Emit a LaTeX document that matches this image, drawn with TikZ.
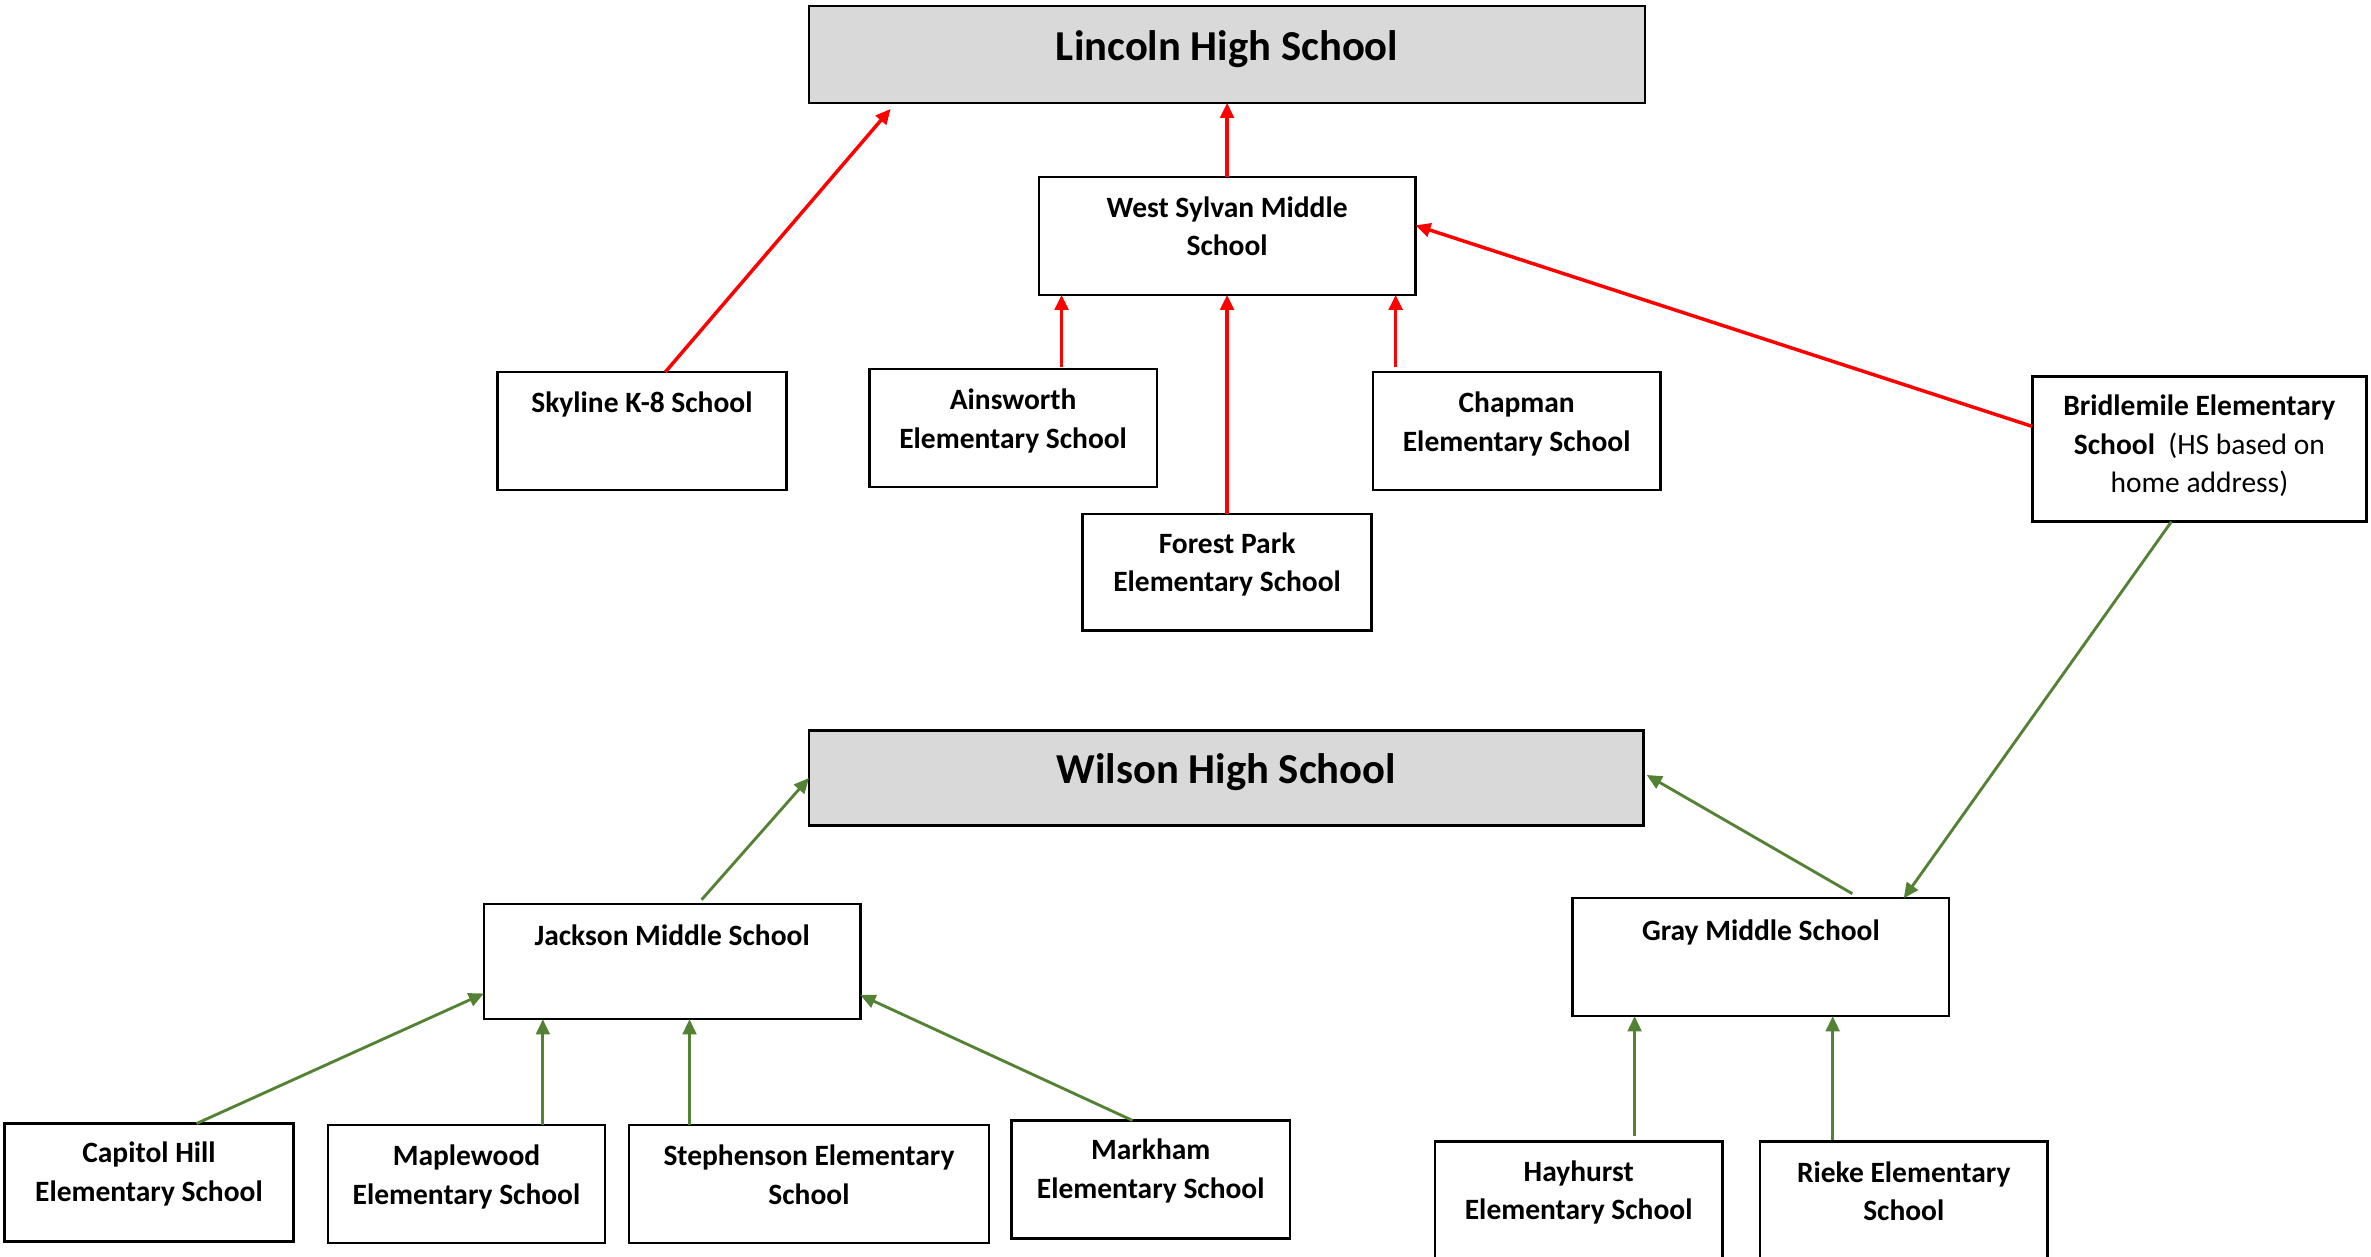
\documentclass[tikz,border=0pt]{standalone}
\usepackage{fontspec}
\setmainfont{Carlito}
\usetikzlibrary{calc,arrows.meta}
\definecolor{hsgray}{HTML}{D9D9D9}
\definecolor{tgreen}{HTML}{548235}
\definecolor{tred}{HTML}{FF0000}
\tikzset{
  sbox/.style 2 args={draw=black, line width=0.8pt, rectangle, inner sep=0pt, outer sep=0pt,
     anchor=north west, minimum width=#1*0.5pt, minimum height=#2*0.5pt},
  hsbox/.style={fill=hsgray},
  lbl/.style={anchor=north, inner sep=0pt, align=center, font=\bfseries\fontsize{9.75}{12.6}\selectfont},
  hslbl/.style={anchor=north, inner sep=0pt, align=center, font=\bfseries\fontsize{14.1}{17}\selectfont},
  redarr/.style={draw=tred, line width=1.15pt, -{Triangle[length=5pt,width=4.5pt]}},
  grnarr/.style={draw=tgreen, line width=0.95pt, -{Triangle[length=5pt,width=4.5pt]}}
}
\begin{document}
\begin{tikzpicture}[x=0.5pt,y=-0.5pt]
\useasboundingbox (0,0) rectangle (1568,831);
\clip (0,0) rectangle (1568,831);
% boxes
\node[sbox={553}{64}, hsbox] (lincoln) at (535,4) {};
\node[sbox={249}{78}] (wsms) at (687,117) {};
\node[sbox={191}{78}] (sky) at (329,246) {};
\node[sbox={190}{78}] (ain) at (575,244) {};
\node[sbox={191}{77}] (fp) at (716,340) {};
\node[sbox={190}{78}] (chap) at (908,246) {};
\node[sbox={221}{96}] (brid) at (1344,249) {};
\node[sbox={552}{63}, hsbox] (wilson) at (535,483) {};
\node[sbox={249}{76}] (jack) at (320,598) {};
\node[sbox={249}{78}] (gray) at (1040,594) {};
\node[sbox={191}{78}] (cap) at (3,743) {};
\node[sbox={183}{78}] (maple) at (217,744) {};
\node[sbox={238}{78}] (steph) at (416,744) {};
\node[sbox={184}{78}] (mark) at (669,741) {};
\node[sbox={190}{110}] (hay) at (949,755) {};
\node[sbox={190}{110}] (rieke) at (1164,755) {};
% texts
\node[hslbl] (lincoln-t) at ($(lincoln.north)+(0,16)$) {Lincoln High School};
\node[hslbl] (wilson-t) at ($(wilson.north)+(0,15)$) {Wilson High School};
\node[lbl] (wsms-t) at ($(wsms.north)+(0,13)$) {West Sylvan Middle\\School};
\node[lbl] (sky-t) at ($(sky.north)+(0,13)$) {Skyline K-8 School};
\node[lbl] (ain-t) at ($(ain.north)+(0,13)$) {Ainsworth\\Elementary School};
\node[lbl] (fp-t) at ($(fp.north)+(0,12)$) {Forest Park\\Elementary School};
\node[lbl] (chap-t) at ($(chap.north)+(0,13)$) {Chapman\\Elementary School};
\node[lbl] (brid-t) at ($(brid.north)+(0,12)$) {Bridlemile Elementary\\School\ \ {\mdseries(HS based on}\\{\mdseries home address)}};
\node[lbl] (jack-t) at ($(jack.north)+(0,13)$) {Jackson Middle School};
\node[lbl] (gray-t) at ($(gray.north)+(0,14)$) {Gray Middle School};
\node[lbl] (cap-t) at ($(cap.north)+(0,12)$) {Capitol Hill\\Elementary School};
\node[lbl] (maple-t) at ($(maple.north)+(0,13)$) {Maplewood\\Elementary School};
\node[lbl] (steph-t) at ($(steph.north)+(0,13)$) {Stephenson Elementary\\School};
\node[lbl] (mark-t) at ($(mark.north)+(0,12)$) {Markham\\Elementary School};
\node[lbl] (hay-t) at ($(hay.north)+(0,12)$) {Hayhurst\\Elementary School};
\node[lbl] (rieke-t) at ($(rieke.north)+(0,13)$) {Rieke Elementary\\School};
% red connectors
\coordinate (skyA) at ($(sky.north)+(15.5,0)$);
\coordinate (skyB) at ($(lincoln.south west)+(54,4)$);
\draw[redarr] (skyA) -- (skyB);
\draw[redarr] (wsms.north) -- (wsms.north |- lincoln.south);
\coordinate (ainA) at ($(ain.north)+(32,-1)$);
\draw[redarr] (ainA) -- (ainA |- wsms.south);
\draw[redarr] (fp.north) -- (fp.north |- wsms.south);
\coordinate (chapA) at ($(chap.north)+(-80,-3)$);
\draw[redarr] (chapA) -- (chapA |- wsms.south);
\coordinate (bridA) at ($(brid.west)+(0,-15)$);
\coordinate (wsmsB) at ($(wsms.east)+(0,-7)$);
\draw[redarr] (bridA) -- (wsmsB);
% green connectors
\coordinate (bridB) at ($(brid.south)+(-18.5,0)$);
\coordinate (grayT) at ($(gray.north)+(94.5,0)$);
\draw[grnarr] (bridB) -- (grayT);
\coordinate (jackA) at ($(jack.north)+(19.5,-3)$);
\draw[grnarr] (jackA) -- (wilson.west);
\coordinate (grayA) at ($(gray.north)+(60.5,-3)$);
\coordinate (wilsonB) at ($(wilson.east)+(2,-2)$);
\draw[grnarr] (grayA) -- (wilsonB);
\coordinate (capA) at ($(cap.north)+(31.5,0)$);
\coordinate (jackL) at ($(jack.west)+(0,21)$);
\draw[grnarr] (capA) -- (jackL);
\coordinate (mapleA) at ($(maple.north)+(50.5,0)$);
\draw[grnarr] (mapleA) -- (mapleA |- jack.south);
\coordinate (stephA) at ($(steph.north)+(-79,0)$);
\draw[grnarr] (stephA) -- (stephA |- jack.south);
\coordinate (markA) at ($(mark.north)+(-12,0)$);
\coordinate (jackR) at ($(jack.east)+(0,22)$);
\draw[grnarr] (markA) -- (jackR);
\coordinate (hayA) at ($(hay.north)+(37,-4)$);
\draw[grnarr] (hayA) -- (hayA |- gray.south);
\coordinate (riekeA) at ($(rieke.north)+(-47,-1)$);
\draw[grnarr] (riekeA) -- (riekeA |- gray.south);
\end{tikzpicture}
\end{document}
